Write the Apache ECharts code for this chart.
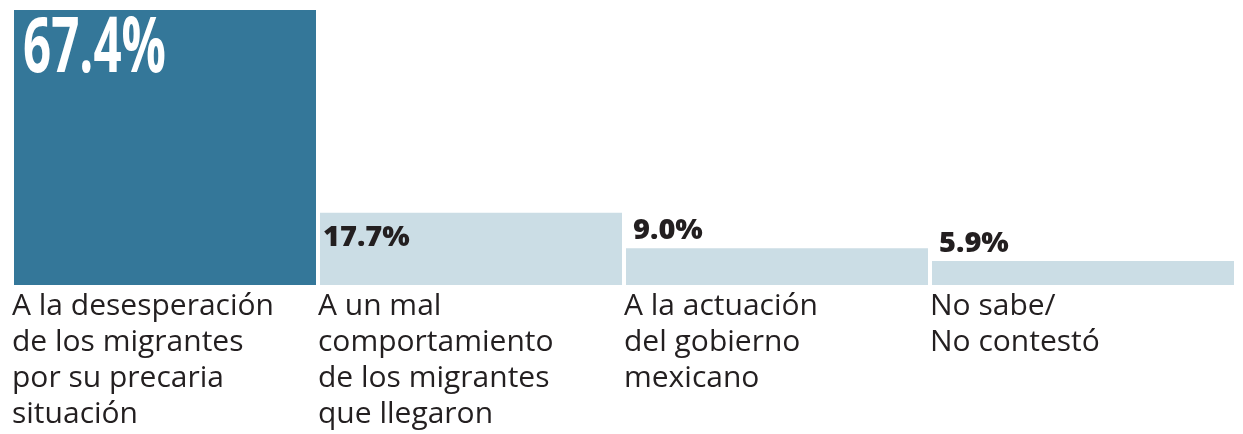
<!DOCTYPE html>
<html>
<head>
<meta charset="utf-8">
<script src="https://cdn.jsdelivr.net/npm/echarts@6/dist/echarts.min.js"></script>
<style>
  html, body { margin: 0; padding: 0; background: #fff; }
  #main { width: 1243px; height: 434px; }
</style>
</head>
<body>
<div id="main"></div>
<script>
// datos de la encuesta
let categories = [
  'A la desesperación\nde los migrantes\npor su precaria\nsituación',
  'A un mal\ncomportamiento\nde los migrantes\nque llegaron',
  'A la actuación\ndel gobierno\nmexicano',
  'No sabe/\nNo contestó'
]
let values = [67.4, 17.7, 9.0, 5.9]
let valueLabels = ['67.4%', '17.7%', '9.0%', '5.9%']

let DARK = '#347799'
let LIGHT = '#cbdde5'
let INK = '#231f20'

let chart = echarts.init(document.getElementById('main'))

let barData = values.map(function (v, i) {
  let item = { value: v, itemStyle: { color: i === 0 ? DARK : LIGHT } }
  if (i === 0) {
    // la cifra grande se dibuja aparte (serie custom) para poder condensarla
    item.label = { show: false }
  } else if (v > 12) {
    item.label = { position: 'insideTopLeft', distance: 0, offset: [3, 10] }
  } else {
    item.label = { position: 'insideTopLeft', distance: 0, offset: [7, -32] }
  }
  return item
})

let option = {
  backgroundColor: '#fff',
  animation: false,
  grid: { left: 12, right: 7, top: 10, bottom: 149 },
  xAxis: [{
    type: 'category',
    data: categories,
    axisLine: { show: false },
    axisTick: { show: false },
    axisLabel: { show: false }
  }, {
    // eje auxiliar para alinear los textos al inicio de cada barra
    type: 'category',
    boundaryGap: false,
    position: 'bottom',
    data: categories.concat(['']),
    axisLine: { show: false },
    axisTick: { show: false },
    axisLabel: {
      align: 'left',
      margin: 3,
      interval: 0,
      color: INK,
      fontFamily: 'Open Sans',
      fontSize: 30,
      lineHeight: 36
    }
  }],
  yAxis: {
    type: 'value',
    min: 0,
    max: 67.4,
    show: false,
    splitLine: { show: false }
  },
  series: [{
    type: 'bar',
    xAxisIndex: 0,
    barWidth: 302,
    data: barData,
    label: {
      show: true,
      color: INK,
      fontFamily: 'Open Sans',
      fontWeight: 800,
      fontSize: 29,
      formatter: function (p) { return valueLabels[p.dataIndex] }
    }
  }, {
    type: 'custom',
    xAxisIndex: 0,
    yAxisIndex: 0,
    z: 10,
    encode: { x: 0, y: 1 },
    data: [[0, values[0]]],
    renderItem: function (params, api) {
      let top = api.coord([api.value(0), api.value(1)])
      return {
        type: 'group',
        children: [{
          type: 'text',
          x: top[0] - 302 / 2 + 9,
          y: top[1] + 2,
          scaleX: 0.64,
          style: {
            text: valueLabels[0],
            fill: '#fff',
            font: 'bold 77px "Open Sans"',
            textVerticalAlign: 'top',
            verticalAlign: 'top'
          }
        }]
      }
    }
  }]
}

chart.setOption(option)
</script>
</body>
</html>
